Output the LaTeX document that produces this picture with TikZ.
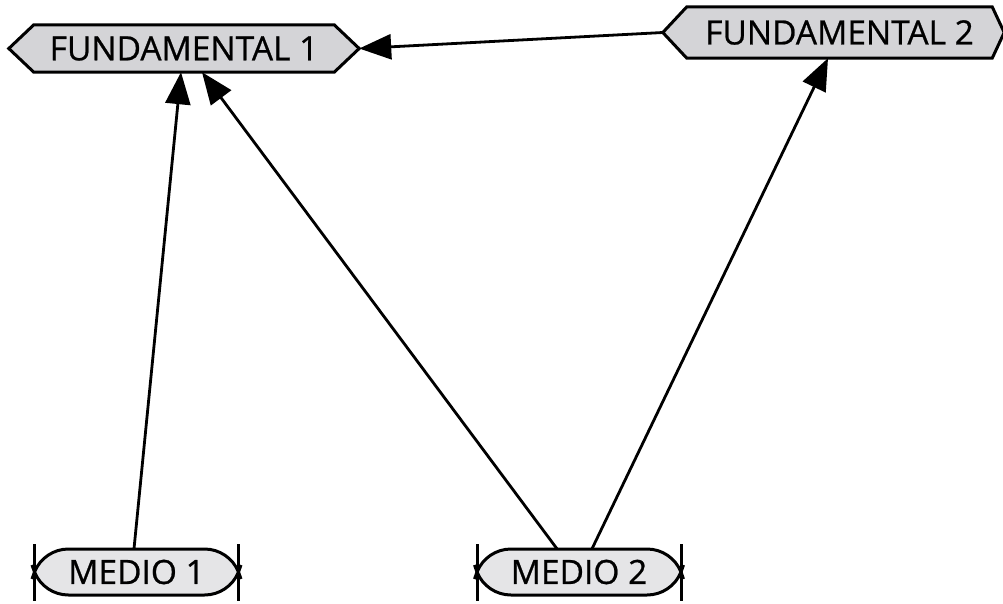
\documentclass[tikz,border=0pt]{standalone}
\usepackage{fontspec}
\newfontfamily\labelfont[FakeBold=0.7]{Open Sans}
\usetikzlibrary{arrows.meta,backgrounds}

\definecolor{fundfill}{HTML}{D4D4D7}
\definecolor{mediofill}{HTML}{E5E5E7}

\tikzset{
  outline/.style={line width=3pt, line join=miter, draw=black},
  labeltext/.style={font=\labelfont\fontsize{33.5}{40}\selectfont, inner sep=0pt, text=black},
  fundnode/.style={labeltext, minimum height=47pt},
  medionode/.style={labeltext, minimum width=204pt, minimum height=46pt},
  link/.style={line width=2.8pt, -{Triangle[length=32pt,width=25pt]}},
}

% hexagonal plate around a node: name, left point depth, right point depth
\newcommand\fundshape[3]{%
  \path[outline, fill=fundfill]
    ([xshift=-#2]#1.west) -- (#1.north west) -- (#1.north east)
    -- ([xshift=#3]#1.east) -- (#1.south east) -- (#1.south west) -- cycle;}

% rounded lens plate with end bars around a node
\newcommand\medioshape[1]{%
  \begin{scope}[shift={(#1.center)}]
    \fill[mediofill] (-68,-23) -- (68,-23)
      .. controls (83,-23) and (96.4,-13.9) .. (102,0)
      .. controls (96.4,13.9) and (83,23) .. (68,23) -- (-68,23)
      .. controls (-83,23) and (-96.4,13.9) .. (-102,0)
      .. controls (-96.4,-13.9) and (-83,-23) .. (-68,-23) -- cycle;
    \draw[outline] (-104.5,7) -- (-102,0)
      .. controls (-96.4,-13.9) and (-83,-23) .. (-68,-23) -- (68,-23)
      .. controls (83,-23) and (96.4,-13.9) .. (102,0) -- (104.5,7);
    \draw[outline] (-104.5,-7) -- (-102,0)
      .. controls (-96.4,13.9) and (-83,23) .. (-68,23) -- (68,23)
      .. controls (83,23) and (96.4,13.9) .. (102,0) -- (104.5,-7);
    \draw[outline] (-102,-28) -- (-102,29);
    \draw[outline] (102,-28) -- (102,29);
  \end{scope}}

\begin{document}
\begin{tikzpicture}[x=1pt,y=-1pt]
  \useasboundingbox (0,0) rectangle (1003,603);
  \clip (0,0) rectangle (1003,603);

  \node[fundnode, minimum width=300pt] (f1) at (184,48.5) {FUNDAMENTAL 1};
  \node[fundnode, minimum width=305pt, minimum height=51pt] (f2) at (839.5,32.5) {FUNDAMENTAL 2};
  \node[medionode] (m1) at (136.5,572) {MEDIO 1};
  \node[medionode] (m2) at (579,572) {MEDIO 2};

  \begin{pgfonlayer}{background}
    \fundshape{f1}{25pt}{25pt}
    \fundshape{f2}{24pt}{12pt}
    \medioshape{m1}
    \medioshape{m2}
  \end{pgfonlayer}

  \draw[link] ([xshift=-24pt]f2.west) -- ([xshift=25pt]f1.east);
  \draw[link] ([xshift=-2.5pt]m1.north) -- ([xshift=-3pt]f1.south);
  \draw[link] ([xshift=-22pt]m2.north) -- ([xshift=18pt]f1.south);
  \draw[link] ([xshift=13pt]m2.north) -- ([xshift=-11.5pt]f2.south);
\end{tikzpicture}
\end{document}
